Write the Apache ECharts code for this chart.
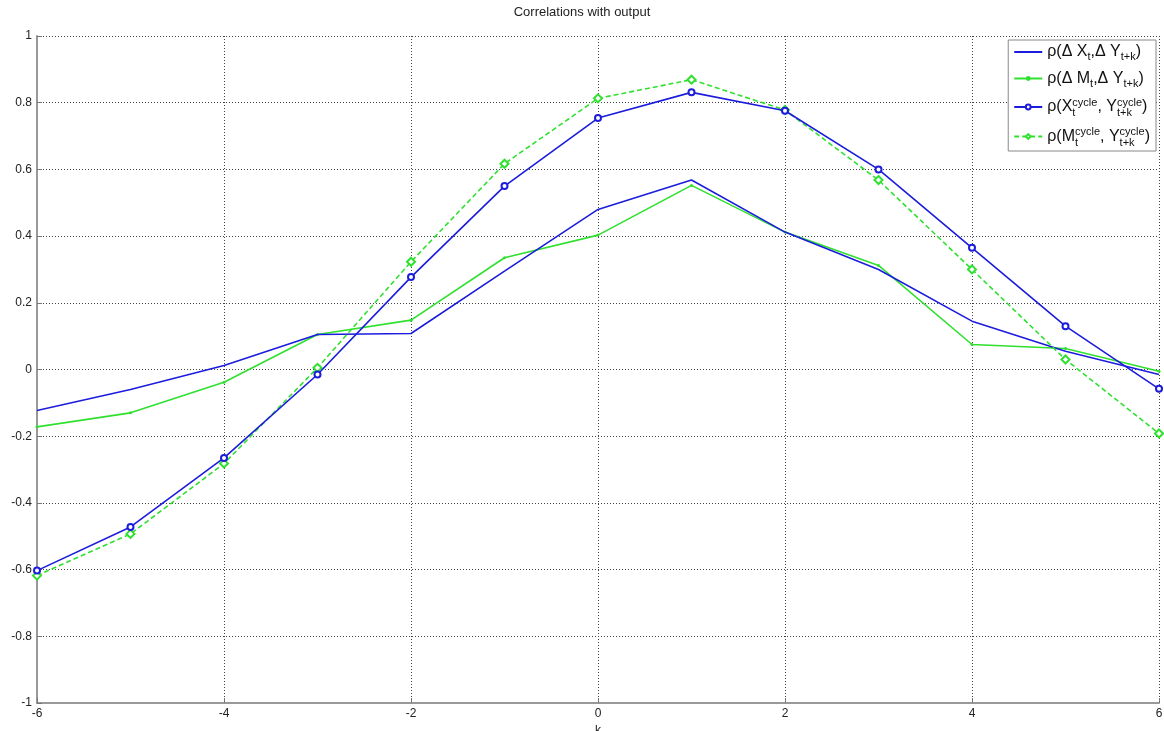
<!DOCTYPE html>
<html>
  <head>
    <title>Correlations with output</title>
    <meta charset="UTF-8" />
    <script src="https://cdn.jsdelivr.net/npm/echarts@6/dist/echarts.min.js"></script>
    <style>
      body { margin: 0; background: #fff; }
    </style>
  </head>
  <body>
    <div id="main"></div>
    <script>
      const width = 1164;
      const height = 731;
      const main = document.getElementById('main');
      main.style.width = `${width}px`;
      main.style.height = `${height}px`;

      // lags k
      const lags = [-6, -5, -4, -3, -2, -1, 0, 1, 2, 3, 4, 5, 6];

      // correlation values
      const dX = [-0.123, -0.06, 0.012, 0.105, 0.108, 0.295, 0.48, 0.568, 0.412, 0.3, 0.145, 0.055, -0.015];
      const dM = [-0.172, -0.13, -0.038, 0.105, 0.148, 0.335, 0.403, 0.552, 0.412, 0.312, 0.075, 0.063, -0.005];
      const xCycle = [-0.603, -0.472, -0.265, -0.015, 0.277, 0.55, 0.754, 0.831, 0.776, 0.6, 0.365, 0.13, -0.058];
      const mCycle = [-0.618, -0.493, -0.282, 0.005, 0.323, 0.617, 0.813, 0.869, 0.778, 0.568, 0.3, 0.03, -0.192];

      const BLUE = '#1c1cdc';
      const GREEN = '#2fe02f';
      const FONT = '"Liberation Sans", Arial, sans-serif';

      const names = ['dX', 'dM', 'xCycle', 'mCycle'];
      const legendText = {
        dX: 'ρ(Δ X{sub|t},Δ Y{sub|t+k})',
        dM: 'ρ(Δ M{sub|t},Δ Y{sub|t+k})',
        xCycle: 'ρ(X{subz|t}{sup|cycle}, Y{subz|t+k}{sup|cycle})',
        mCycle: 'ρ(M{subz|t}{sup|cycle}, Y{subz|t+k}{sup|cycle})',
      };

      const pair = (vals) => lags.map((k, i) => [k, vals[i]]);

      const myChart = echarts.init(main);
      const option = {
        animation: false,
        backgroundColor: '#fff',
        title: {
          text: 'Correlations with output',
          left: 'center',
          top: 1,
          textStyle: {
            fontFamily: FONT,
            fontSize: 13,
            fontWeight: 'normal',
            color: '#222',
          },
        },
        grid: {
          left: 37,
          right: 5,
          top: 36,
          bottom: 28,
          containLabel: false,
          outerBoundsMode: 'none',
        },
        legend: {
          orient: 'vertical',
          right: 8,
          top: 40,
          padding: [4, 6, 3, 5],
          itemGap: 8,
          itemWidth: 28,
          itemHeight: 6,
          borderColor: '#888',
          borderWidth: 1,
          backgroundColor: '#fff',
          data: [
            { name: 'dX', itemStyle: { opacity: 0 } },
            { name: 'dM' },
            { name: 'xCycle' },
            { name: 'mCycle' },
          ],
          formatter: (name) => legendText[name],
          textStyle: {
            fontFamily: FONT,
            fontSize: 16,
            color: '#111',
            rich: {
              sub: { fontFamily: FONT, fontSize: 11, color: '#111', padding: [10, 0, 0, 0] },
              subz: { fontFamily: FONT, fontSize: 11, color: '#111', padding: [12, 0, 0, 0], width: 0 },
              sup: { fontFamily: FONT, fontSize: 11, color: '#111', padding: [0, 0, 9, 0] },
            },
          },
        },
        xAxis: {
          type: 'value',
          min: -6,
          max: 6,
          interval: 2,
          name: 'k',
          nameLocation: 'middle',
          nameGap: 21,
          nameTextStyle: { fontFamily: FONT, fontSize: 12, color: '#222' },
          axisLine: { onZero: false, lineStyle: { color: '#999', width: 2 } },
          axisTick: { inside: true, length: 5, lineStyle: { color: '#777' } },
          axisLabel: { fontFamily: FONT, fontSize: 12, color: '#222', margin: 5 },
          splitLine: {
            show: true,
            lineStyle: { color: '#444', type: [1, 2], width: 1 },
          },
        },
        yAxis: {
          type: 'value',
          min: -1,
          max: 1,
          interval: 0.2,
          axisLine: { show: true, onZero: false, lineStyle: { color: '#999', width: 2 } },
          axisTick: { show: true, inside: true, length: 5, lineStyle: { color: '#777' } },
          axisLabel: {
            fontFamily: FONT,
            fontSize: 12,
            color: '#222',
            margin: 5,
            formatter: (v) => String(Math.round(v * 10) / 10),
          },
          splitLine: {
            show: true,
            lineStyle: { color: '#444', type: [1, 2], width: 1 },
          },
        },
        series: [
          {
            name: 'dX',
            type: 'line',
            data: pair(dX),
            symbol: 'none',
            lineStyle: { color: BLUE, width: 1.6 },
            itemStyle: { color: BLUE },
            z: 3,
          },
          {
            name: 'dM',
            type: 'line',
            data: pair(dM),
            symbol: 'circle',
            symbolSize: 3,
            lineStyle: { color: GREEN, width: 1.6 },
            itemStyle: { color: GREEN },
            z: 2,
          },
          {
            name: 'xCycle',
            type: 'line',
            data: pair(xCycle),
            symbol: 'emptyCircle',
            symbolSize: 6,
            lineStyle: { color: BLUE, width: 1.6 },
            itemStyle: { color: BLUE, borderWidth: 1.3 },
            z: 4,
          },
          {
            name: 'mCycle',
            type: 'line',
            data: pair(mCycle),
            symbol: 'emptyDiamond',
            symbolSize: 8,
            lineStyle: { color: GREEN, width: 1.6, type: [5, 3] },
            itemStyle: { color: GREEN, borderWidth: 1.5 },
            z: 3,
          },
        ],
      };
      myChart.setOption(option);
    </script>
  </body>
</html>
